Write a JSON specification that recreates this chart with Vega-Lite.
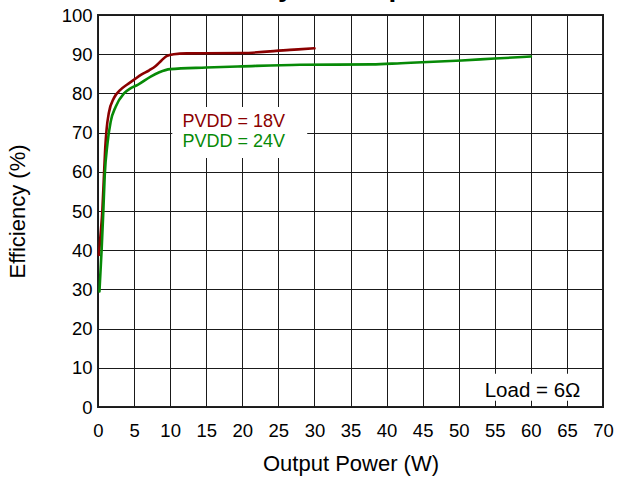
{
  "$schema": "https://vega.github.io/schema/vega-lite/v6.json",
  "autosize": {"type": "none"},
  "width": 505,
  "height": 392,
  "padding": {"left": 98, "top": 15, "right": 14, "bottom": 74},
  "background": "white",
  "title": {"text": "Efficiency vs Output Power", "fontSize": 28, "fontWeight": "bold", "font": "Liberation Sans", "color": "#000000", "anchor": "middle", "frame": "group", "offset": 4.5, "dx": -8},
  "config": {
    "font": "Liberation Sans",
    "view": {"stroke": "#222222", "strokeWidth": 2},
    "axis": {"labelFont": "Liberation Sans", "titleFont": "Liberation Sans", "labelFontSize": 18.5, "titleFontSize": 22, "titleFontWeight": "normal", "labelColor": "#000000", "titleColor": "#000000", "gridColor": "#1a1a1a", "gridWidth": 1, "gridOpacity": 1, "domain": false, "ticks": false, "labelOverlap": false, "labelFlush": false},
    "axisX": {"values": [0,5,10,15,20,25,30,35,40,45,50,55,60,65,70], "labelPadding": 14, "titlePadding": 14, "grid": true},
    "axisY": {"values": [0,10,20,30,40,50,60,70,80,90,100], "labelPadding": 6, "titlePadding": 32, "grid": true}
  },
  "datasets": {
    "curves": [
      {"series": "18V", "power": 0.12, "eff": 38.8},
      {"series": "18V", "power": 0.4, "eff": 45},
      {"series": "18V", "power": 0.6, "eff": 50},
      {"series": "18V", "power": 0.8, "eff": 58},
      {"series": "18V", "power": 1.0, "eff": 66},
      {"series": "18V", "power": 1.2, "eff": 71},
      {"series": "18V", "power": 1.5, "eff": 75},
      {"series": "18V", "power": 2.2, "eff": 78.8},
      {"series": "18V", "power": 3.1, "eff": 80.9},
      {"series": "18V", "power": 4.0, "eff": 82.2},
      {"series": "18V", "power": 5.0, "eff": 83.5},
      {"series": "18V", "power": 6.0, "eff": 84.8},
      {"series": "18V", "power": 7.1, "eff": 85.9},
      {"series": "18V", "power": 8.0, "eff": 87},
      {"series": "18V", "power": 8.8, "eff": 88.4},
      {"series": "18V", "power": 9.5, "eff": 89.5},
      {"series": "18V", "power": 10.5, "eff": 90},
      {"series": "18V", "power": 12.3, "eff": 90.2},
      {"series": "18V", "power": 20, "eff": 90.3},
      {"series": "18V", "power": 26.6, "eff": 91.1},
      {"series": "18V", "power": 30, "eff": 91.5},
      {"series": "24V", "power": 0.2, "eff": 29.5},
      {"series": "24V", "power": 0.5, "eff": 40},
      {"series": "24V", "power": 0.74, "eff": 50},
      {"series": "24V", "power": 0.93, "eff": 59},
      {"series": "24V", "power": 1.3, "eff": 67},
      {"series": "24V", "power": 1.76, "eff": 72.8},
      {"series": "24V", "power": 2.45, "eff": 76.6},
      {"series": "24V", "power": 3.6, "eff": 80},
      {"series": "24V", "power": 4.5, "eff": 81.3},
      {"series": "24V", "power": 5.5, "eff": 82.2},
      {"series": "24V", "power": 7.3, "eff": 84.3},
      {"series": "24V", "power": 8.5, "eff": 85.4},
      {"series": "24V", "power": 10, "eff": 86.2},
      {"series": "24V", "power": 15, "eff": 86.6},
      {"series": "24V", "power": 20, "eff": 86.9},
      {"series": "24V", "power": 28, "eff": 87.3},
      {"series": "24V", "power": 38, "eff": 87.4},
      {"series": "24V", "power": 42, "eff": 87.7},
      {"series": "24V", "power": 50.4, "eff": 88.4},
      {"series": "24V", "power": 55, "eff": 88.9},
      {"series": "24V", "power": 60, "eff": 89.4}
    ],
    "boxes": [
      {"x1": 10.3, "x2": 29.0, "y1": 63.5, "y2": 76.5},
      {"x1": 50.5, "x2": 69.7, "y1": 1.6, "y2": 8.5}
    ],
    "notes": [
      {"series": "18V", "label": "PVDD = 18V", "x": 11.7, "y": 71.5},
      {"series": "24V", "label": "PVDD = 24V", "x": 11.7, "y": 66.2}
    ],
    "load": [
      {"series": "note", "label": "Load = 6Ω", "x": 53.6, "y": 2.6}
    ]
  },
  "layer": [
    {
      "data": {"name": "boxes"},
      "mark": {"type": "rect", "fill": "white", "stroke": null},
      "encoding": {
        "x": {"field": "x1", "type": "quantitative", "scale": {"domain": [0, 70], "nice": false, "zero": false}, "title": "Output Power (W)"},
        "x2": {"field": "x2"},
        "y": {"field": "y1", "type": "quantitative", "scale": {"domain": [0, 100], "nice": false}, "title": "Efficiency (%)"},
        "y2": {"field": "y2"}
      }
    },
    {
      "data": {"name": "curves"},
      "mark": {"type": "line", "interpolate": "monotone", "strokeWidth": 2.6, "strokeCap": "round", "strokeJoin": "round"},
      "encoding": {
        "x": {"field": "power", "type": "quantitative", "title": "Output Power (W)"},
        "y": {"field": "eff", "type": "quantitative", "title": "Efficiency (%)"},
        "color": {"field": "series", "type": "nominal", "scale": {"domain": ["18V", "24V", "note"], "range": ["#8B0000", "#078A07", "#000000"]}, "legend": null},
        "order": {"field": "power", "type": "quantitative"}
      }
    },
    {
      "data": {"name": "notes"},
      "mark": {"type": "text", "align": "left", "baseline": "alphabetic", "fontSize": 18, "font": "Liberation Sans"},
      "encoding": {
        "x": {"field": "x", "type": "quantitative", "title": "Output Power (W)"},
        "y": {"field": "y", "type": "quantitative", "title": "Efficiency (%)"},
        "text": {"field": "label"},
        "color": {"field": "series", "type": "nominal", "legend": null}
      }
    },
    {
      "data": {"name": "load"},
      "mark": {"type": "text", "align": "left", "baseline": "alphabetic", "fontSize": 20.5, "font": "Liberation Sans"},
      "encoding": {
        "x": {"field": "x", "type": "quantitative", "title": "Output Power (W)"},
        "y": {"field": "y", "type": "quantitative", "title": "Efficiency (%)"},
        "text": {"field": "label"},
        "color": {"field": "series", "type": "nominal", "legend": null}
      }
    }
  ]
}
